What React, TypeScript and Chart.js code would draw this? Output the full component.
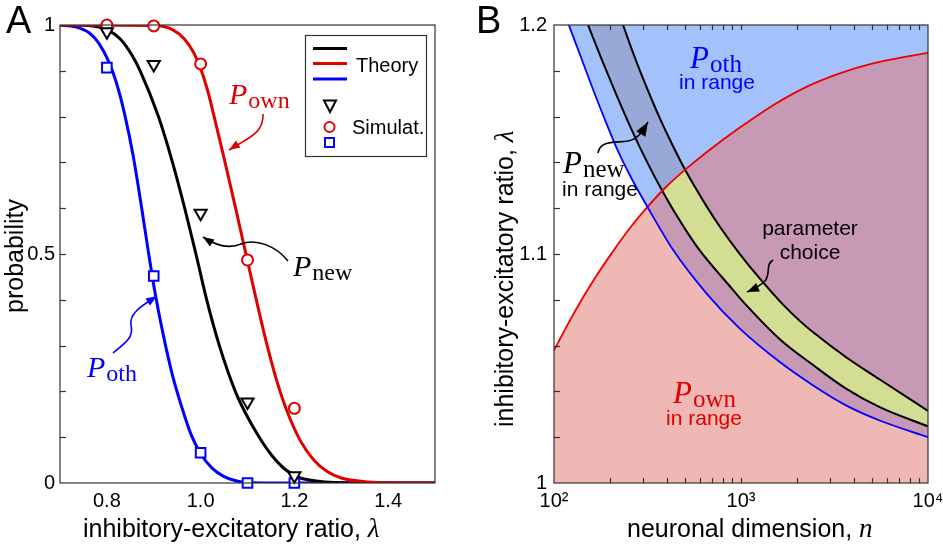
import React, { useEffect, useRef } from 'react';
import { Chart, registerables } from 'chart.js';

Chart.register(...registerables);

// ---------------- Panel A data ----------------
const A_X_TICKS = [0.8, 1.0, 1.2, 1.4];
const A_Y_TICKS = [0, 0.5, 1];
const A_Y_MINOR = [0.1, 0.2, 0.3, 0.4, 0.5, 0.6, 0.7, 0.8, 0.9];

const A_NEW_L = [0.70, 0.77, 0.80, 0.828, 0.853, 0.871, 0.910, 0.940, 0.966, 0.990, 1.013, 1.040, 1.074, 1.097, 1.125, 1.152, 1.180, 1.21, 1.25, 1.29, 1.33, 1.50];
const A_NEW_P = [1.0, 0.998, 0.99, 0.97, 0.935, 0.90, 0.80, 0.70, 0.60, 0.50, 0.40, 0.30, 0.20, 0.15, 0.10, 0.06, 0.03, 0.012, 0.004, 0.001, 0.0, 0.0];

const A_OWN_L = [0.70, 0.90, 0.94, 0.965, 0.985, 1.0, 1.015, 1.03, 1.051, 1.074, 1.096, 1.121, 1.142, 1.164, 1.185, 1.213, 1.24, 1.27, 1.30, 1.35, 1.40, 1.45, 1.50];
const A_OWN_P = [1.0, 0.999, 0.99, 0.97, 0.94, 0.905, 0.857, 0.795, 0.705, 0.603, 0.503, 0.39, 0.30, 0.218, 0.155, 0.092, 0.052, 0.025, 0.011, 0.003, 0.0005, 0.0, 0.0];

const A_OTH_L = [0.70, 0.733, 0.762, 0.783, 0.803, 0.82, 0.838, 0.856, 0.872, 0.887, 0.902, 0.92, 0.94, 0.96, 0.98, 1.0, 1.025, 1.05, 1.075, 1.10, 1.15, 1.50];
const A_OTH_P = [1.0, 0.996, 0.983, 0.96, 0.922, 0.875, 0.805, 0.715, 0.615, 0.515, 0.42, 0.325, 0.235, 0.165, 0.105, 0.064, 0.032, 0.014, 0.005, 0.001, 0.0, 0.0];

const SIM_L = [0.8, 0.9, 1.0, 1.1, 1.2];
const SIM_NEW = [0.985, 0.914, 0.589, 0.177, 0.016];
const SIM_OWN = [1.0, 0.998, 0.915, 0.487, 0.163];
const SIM_OTH = [0.907, 0.452, 0.066, 0.0, 0.0];

// ---------------- Panel B data ----------------
const B_X_TICKS = [100, 1000, 10000];
const B_X_LABELS = ['10²', '10³', '10⁴'];
const B_X_MINOR = [200, 300, 400, 500, 600, 700, 800, 900, 1000, 2000, 3000, 4000, 5000, 6000, 7000, 8000, 9000];
const B_Y_TICKS = [1, 1.1, 1.2];
const B_Y_MINOR = [1.02, 1.04, 1.06, 1.08, 1.1, 1.12, 1.14, 1.16, 1.18];

// P_oth boundary (blue)
const B_OTH_N = [120, 140, 165, 195, 220, 259, 319, 434, 655, 986, 1613, 2432, 3664, 5521, 10000];
const B_OTH_L = [1.2000, 1.1855, 1.1700, 1.1551, 1.1449, 1.1332, 1.1200, 1.1017, 1.0827, 1.0674, 1.0528, 1.0426, 1.0338, 1.0273, 1.0200];

// P_own boundary (red)
const B_OWN_N = [100, 119, 140, 165, 195, 259, 318, 390, 499, 665, 986, 1486, 2239, 3373, 5082, 7674, 10000];
const B_OWN_L = [1.0579, 1.0696, 1.0798, 1.0893, 1.0982, 1.1121, 1.1208, 1.1286, 1.1366, 1.1449, 1.1552, 1.1650, 1.1730, 1.1789, 1.1832, 1.1862, 1.1878];

// P_new band, lower boundary (black)
const B_NEW_LO_N = [152, 179, 211, 248, 290, 345, 376, 442, 532, 603, 908, 1000, 1613, 2432, 3664, 5521, 10000];
const B_NEW_LO_L = [1.2000, 1.1854, 1.1713, 1.1580, 1.1460, 1.1338, 1.1282, 1.1182, 1.1078, 1.1015, 1.0842, 1.0802, 1.0628, 1.0515, 1.0411, 1.0331, 1.0247];

// P_new band, upper boundary (black)
const B_NEW_HI_N = [234, 270, 318, 374, 438, 501, 655, 771, 986, 1114, 1486, 1683, 2061, 2432, 3664, 5521, 10000];
const B_NEW_HI_L = [1.2000, 1.1860, 1.1714, 1.1580, 1.1463, 1.1370, 1.1208, 1.1119, 1.0999, 1.0945, 1.0826, 1.0778, 1.0708, 1.0658, 1.0548, 1.0452, 1.0315];

// ---------------- styling ----------------
const SANS = '"Liberation Sans", Arial, Helvetica, sans-serif';
const SERIF = '"Liberation Serif", "Times New Roman", serif';
const RED = '#e00000';
const BLUE = '#0000ff';
const FRAME = '#333333';
const C_OTH = '#a3c1fb';
const C_OWN = '#efb8b5';
const C_BOTH = '#c799b5';
const C_NEW = '#99a9d7';
const C_CHOICE = '#d3dd93';
const CLEAR = 'rgba(0,0,0,0)';

const pts = (xs: number[], ys: number[]) => xs.map((x, i) => ({ x, y: ys[i] }));

function drawSym(ctx: CanvasRenderingContext2D, x: number, y: number, main: string, sub: string, color: string, size: number) {
  ctx.save();
  ctx.fillStyle = color;
  ctx.textAlign = 'left';
  ctx.textBaseline = 'alphabetic';
  ctx.font = `italic ${size}px ${SERIF}`;
  ctx.fillText(main, x, y);
  const w = ctx.measureText(main).width;
  ctx.font = `${Math.round(size * 0.8)}px ${SERIF}`;
  ctx.fillText(sub, x + w + 1, y + size * 0.13);
  ctx.restore();
}

function drawArrow(ctx: CanvasRenderingContext2D, p: number[][], color: string, head = 11, lw = 1.6) {
  ctx.save();
  ctx.strokeStyle = color;
  ctx.fillStyle = color;
  ctx.lineWidth = lw;
  ctx.beginPath();
  ctx.moveTo(p[0][0], p[0][1]);
  for (let i = 1; i + 2 < p.length; i += 3) {
    ctx.bezierCurveTo(p[i][0], p[i][1], p[i + 1][0], p[i + 1][1], p[i + 2][0], p[i + 2][1]);
  }
  ctx.stroke();
  const tip = p[p.length - 1];
  const prev = p[p.length - 2];
  const ang = Math.atan2(tip[1] - prev[1], tip[0] - prev[0]);
  const bx = tip[0] - head * Math.cos(ang);
  const by = tip[1] - head * Math.sin(ang);
  const hw = head * 0.38;
  ctx.beginPath();
  ctx.moveTo(tip[0], tip[1]);
  ctx.lineTo(bx + hw * Math.sin(ang), by - hw * Math.cos(ang));
  ctx.lineTo(bx - hw * Math.sin(ang), by + hw * Math.cos(ang));
  ctx.closePath();
  ctx.fill();
  ctx.restore();
}

function drawRun(ctx: CanvasRenderingContext2D, parts: [string, string][], x: number, y: number) {
  let cx = x;
  for (const [t, f] of parts) {
    ctx.font = f;
    ctx.fillText(t, cx, y);
    cx += ctx.measureText(t).width;
  }
}

function tickLine(ctx: CanvasRenderingContext2D, x1: number, y1: number, x2: number, y2: number) {
  ctx.beginPath();
  ctx.moveTo(x1, y1);
  ctx.lineTo(x2, y2);
  ctx.stroke();
}

const TITLE_FONT = `25px ${SANS}`;
const MATH_FONT = `italic 27px ${SERIF}`;

const panelAPlugin = {
  id: 'panelA',
  afterDraw(chart: any) {
    const { ctx, chartArea: a, scales } = chart;
    const y = scales.y;
    ctx.save();
    ctx.strokeStyle = FRAME;
    ctx.lineWidth = 1.2;
    ctx.strokeRect(a.left, a.top, a.right - a.left, a.bottom - a.top);
    for (const v of A_Y_MINOR) {
      const py = Math.round(y.getPixelForValue(v)) + 0.5;
      tickLine(ctx, a.left, py, a.left + 6, py);
    }

    // legend box
    ctx.fillStyle = '#fff';
    ctx.fillRect(305, 35, 121, 122);
    ctx.strokeStyle = FRAME;
    ctx.lineWidth = 1.2;
    ctx.strokeRect(305.5, 35.5, 121, 121);
    ctx.lineWidth = 3.2;
    [['#000', 48.5], [RED, 63.5], [BLUE, 79]].forEach(([c, yy]) => {
      ctx.strokeStyle = c as string;
      tickLine(ctx, 313, yy as number, 347, yy as number);
    });
    ctx.fillStyle = '#000';
    ctx.font = `20px ${SANS}`;
    ctx.textAlign = 'left';
    ctx.textBaseline = 'alphabetic';
    ctx.fillText('Theory', 356, 72);
    ctx.fillText('Simulat.', 352, 134);
    ctx.lineWidth = 2;
    ctx.strokeStyle = '#000';
    ctx.beginPath();
    ctx.moveTo(330, 112);
    ctx.lineTo(324, 100.5);
    ctx.lineTo(336, 100.5);
    ctx.closePath();
    ctx.stroke();
    ctx.strokeStyle = RED;
    ctx.beginPath();
    ctx.arc(329.5, 127, 5, 0, Math.PI * 2);
    ctx.stroke();
    ctx.strokeStyle = BLUE;
    ctx.strokeRect(325, 138, 9, 9);

    // annotations
    drawSym(ctx, 229, 104, 'P', 'own', RED, 30);
    drawArrow(ctx, [[263, 114], [264, 134], [246, 139], [229, 150]], RED, 11);
    drawSym(ctx, 293, 276, 'P', 'new', '#000', 30);
    drawArrow(ctx, [[288, 261], [276, 246], [256, 238], [241, 244], [229, 249], [215, 245], [203, 237]], '#000', 11);
    drawSym(ctx, 87, 377, 'P', 'oth', BLUE, 30);
    drawArrow(ctx, [[113, 353], [125, 343], [134, 338], [131, 325], [129, 313], [143, 305], [157, 296]], BLUE, 11);

    // panel letter
    ctx.fillStyle = '#000';
    ctx.font = `38px ${SANS}`;
    ctx.fillText('A', 6, 33);

    // axis titles
    drawRun(ctx, [['inhibitory-excitatory ratio, ', TITLE_FONT], ['λ', MATH_FONT]], 83, 537);
    ctx.save();
    ctx.translate(23, 313);
    ctx.rotate(-Math.PI / 2);
    drawRun(ctx, [['probability', TITLE_FONT]], 0, 0);
    ctx.restore();
    ctx.restore();
  },
};

const panelBPlugin = {
  id: 'panelB',
  afterDraw(chart: any) {
    const { ctx, chartArea: a, scales } = chart;
    const x = scales.x;
    const y = scales.y;
    ctx.save();
    ctx.strokeStyle = FRAME;
    ctx.lineWidth = 1.2;
    ctx.strokeRect(a.left, a.top, a.right - a.left, a.bottom - a.top);
    for (const v of B_Y_MINOR) {
      const py = Math.round(y.getPixelForValue(v)) + 0.5;
      tickLine(ctx, a.left, py, a.left + 6, py);
    }
    for (const v of B_X_MINOR) {
      const px = Math.round(x.getPixelForValue(v)) + 0.5;
      tickLine(ctx, px, a.top, px, a.top + 5);
      tickLine(ctx, px, a.bottom, px, a.bottom - 5);
    }

    // annotations
    drawSym(ctx, 220, 68, 'P', 'oth', BLUE, 31);
    ctx.textAlign = 'center';
    ctx.textBaseline = 'alphabetic';
    ctx.font = `21px ${SANS}`;
    ctx.fillStyle = BLUE;
    ctx.fillText('in range', 247, 89);
    ctx.textAlign = 'left';

    drawSym(ctx, 93, 173, 'P', 'new', '#000', 31);
    ctx.textAlign = 'center';
    ctx.font = `21px ${SANS}`;
    ctx.fillStyle = '#000';
    ctx.fillText('in range', 130, 196);
    ctx.textAlign = 'left';
    drawArrow(ctx, [[128, 153], [130, 140], [145, 143], [158, 141], [168, 139], [172, 132], [178, 122]], '#000', 14);

    drawSym(ctx, 203, 403, 'P', 'own', RED, 31);
    ctx.textAlign = 'center';
    ctx.font = `21px ${SANS}`;
    ctx.fillStyle = RED;
    ctx.fillText('in range', 234, 425);

    ctx.fillStyle = '#000';
    ctx.font = `21px ${SANS}`;
    ctx.fillText('parameter', 340, 235);
    ctx.fillText('choice', 340, 259);
    ctx.textAlign = 'left';
    drawArrow(ctx, [[303, 260], [295, 265], [301, 274], [295, 281], [290, 286], [284, 289], [277, 292]], '#000', 12);

    ctx.fillStyle = '#000';
    ctx.font = `38px ${SANS}`;
    ctx.fillText('B', 6, 33);

    drawRun(ctx, [['neuronal dimension, ', TITLE_FONT], ['n', MATH_FONT]], 157, 537);
    ctx.save();
    ctx.translate(43, 427);
    ctx.rotate(-Math.PI / 2);
    drawRun(ctx, [['inhibitory-excitatory ratio, ', TITLE_FONT], ['λ', MATH_FONT]], 0, 0);
    ctx.restore();
    ctx.restore();
  },
};

const tickFont = { family: SANS, size: 20 };

function fixScale(size: number, horizontal: boolean) {
  return (s: any) => {
    if (horizontal) s.height = size;
    else s.width = size;
    s.paddingLeft = 0;
    s.paddingRight = 0;
    s.paddingTop = 0;
    s.paddingBottom = 0;
  };
}

function configA(): any {
  const line = (data: any, color: string) => ({
    data, borderColor: color, borderWidth: 3, pointRadius: 0, fill: false,
    cubicInterpolationMode: 'monotone',
  });
  const marks = (data: any, color: string, style: string, radius: number, rotation = 0) => ({
    data, showLine: false, borderColor: color, backgroundColor: '#fff', pointStyle: style,
    pointRadius: radius, pointBorderWidth: 2, pointRotation: rotation, clip: false,
  });
  return {
    type: 'line',
    data: {
      datasets: [
        marks(pts(SIM_L, SIM_NEW), '#000', 'triangle', 7, 180),
        marks(pts(SIM_L, SIM_OWN), RED, 'circle', 5.5),
        marks(pts(SIM_L, SIM_OTH), BLUE, 'rect', 6.8),
        line(pts(A_OWN_L, A_OWN_P), RED),
        line(pts(A_NEW_L, A_NEW_P), '#000'),
        line(pts(A_OTH_L, A_OTH_P), BLUE),
      ],
    },
    options: {
      animation: false,
      responsive: true,
      maintainAspectRatio: false,
      layout: { padding: { left: 0, right: 35, top: 25, bottom: 27 } },
      plugins: { legend: { display: false }, tooltip: { enabled: false } },
      scales: {
        x: {
          type: 'linear', min: 0.7, max: 1.5,
          grid: { display: false, drawTicks: false }, border: { display: false },
          afterBuildTicks: (s: any) => { s.ticks = A_X_TICKS.map((v) => ({ value: v })); },
          afterFit: fixScale(35, true),
          ticks: { font: tickFont, color: '#000', padding: 6, maxRotation: 0, autoSkip: false,
            callback: (v: any) => Number(v).toFixed(1) },
        },
        y: {
          type: 'linear', min: 0, max: 1,
          grid: { display: false, drawTicks: false }, border: { display: false },
          afterBuildTicks: (s: any) => { s.ticks = A_Y_TICKS.map((v) => ({ value: v })); },
          afterFit: fixScale(60, false),
          ticks: { font: tickFont, color: '#000', padding: 5, autoSkip: false,
            callback: (v: any) => String(v) },
        },
      },
    },
    plugins: [panelAPlugin],
  };
}

function configB(): any {
  const lineDs = (data: any, color: string, w: number) => ({
    data, borderColor: color, borderWidth: w, pointRadius: 0, fill: false,
    cubicInterpolationMode: 'monotone', order: 0,
  });
  const fillDs = (data: any, fill: any, bg: string, order: number) => ({
    data, borderColor: CLEAR, borderWidth: 0, pointRadius: 0, fill, backgroundColor: bg,
    cubicInterpolationMode: 'monotone', order,
  });
  const oth = pts(B_OTH_N, B_OTH_L);
  const own = pts(B_OWN_N, B_OWN_L);
  const lo = pts(B_NEW_LO_N, B_NEW_LO_L);
  const hi = pts(B_NEW_HI_N, B_NEW_HI_L);
  return {
    type: 'line',
    data: {
      datasets: [
        lineDs(oth, BLUE, 1.8),            // 0
        lineDs(own, '#ee0000', 1.8),       // 1
        lineDs(lo, '#000', 2),             // 2
        lineDs(hi, '#000', 2),             // 3
        fillDs(oth, 'end', C_OTH, 7),      // above blue: P_oth in range
        fillDs(lo, 'end', C_NEW, 6),       // above lower black
        fillDs(hi, 'end', C_OTH, 5),       // above upper black (restores P_oth colour)
        fillDs(own, 'start', C_OWN, 4),    // below red: P_own in range
        fillDs(oth, { target: 1, above: CLEAR, below: C_BOTH }, C_BOTH, 3),    // both in range
        fillDs(own, { target: 2, above: C_CHOICE, below: CLEAR }, C_CHOICE, 2), // parameter choice
        fillDs(own, { target: 3, above: C_BOTH, below: CLEAR }, C_BOTH, 1),     // both, above band
      ],
    },
    options: {
      animation: false,
      responsive: true,
      maintainAspectRatio: false,
      layout: { padding: { left: 0, right: 15, top: 25, bottom: 27 } },
      plugins: { legend: { display: false }, tooltip: { enabled: false } },
      scales: {
        x: {
          type: 'logarithmic', min: 100, max: 10000,
          grid: { display: false, drawTicks: false }, border: { display: false },
          afterBuildTicks: (s: any) => { s.ticks = B_X_TICKS.map((v) => ({ value: v })); },
          afterFit: fixScale(35, true),
          ticks: { font: tickFont, color: '#000', padding: 6, maxRotation: 0, autoSkip: false,
            callback: (v: any) => B_X_LABELS[B_X_TICKS.indexOf(Number(v))] ?? '' },
        },
        y: {
          type: 'linear', min: 1, max: 1.2,
          grid: { display: false, drawTicks: false }, border: { display: false },
          afterBuildTicks: (s: any) => { s.ticks = B_Y_TICKS.map((v) => ({ value: v })); },
          afterFit: fixScale(84, false),
          ticks: { font: tickFont, color: '#000', padding: 7, autoSkip: false,
            callback: (v: any) => (Number(v) === 1 ? '1' : Number(v).toFixed(1)) },
        },
      },
    },
    plugins: [panelBPlugin],
  };
}

export default function App() {
  const refA = useRef<HTMLCanvasElement>(null);
  const refB = useRef<HTMLCanvasElement>(null);
  useEffect(() => {
    const a = new Chart(refA.current as HTMLCanvasElement, configA());
    const b = new Chart(refB.current as HTMLCanvasElement, configB());
    return () => {
      a.destroy();
      b.destroy();
    };
  }, []);
  return (
    <div style={{ position: 'fixed', left: 0, top: 0, width: 943, height: 545, background: '#fff' }}>
      <div style={{ position: 'absolute', left: 0, top: 0, width: 470, height: 545 }}>
        <canvas ref={refA} />
      </div>
      <div style={{ position: 'absolute', left: 470, top: 0, width: 473, height: 545 }}>
        <canvas ref={refB} />
      </div>
    </div>
  );
}
